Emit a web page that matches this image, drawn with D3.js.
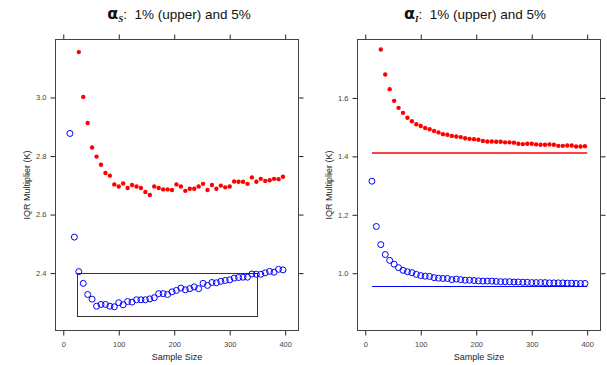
<!DOCTYPE html>
<html>
<head>
<meta charset="utf-8">
<script src="https://cdn.jsdelivr.net/npm/d3@7"></script>
<style>
  body { margin: 0; background: #fff; }
  svg { font-family: "Liberation Sans", Arial, sans-serif; }
</style>
</head>
<body>
<div id="chart"></div>
<script>
// sample sizes: 12, 20, ... 396 (blue series) ; red series starts at 28
const sizesAll = [12,20,28,36,44,52,60,68,76,84,92,100,108,116,124,132,140,148,156,164,172,180,188,196,204,212,220,228,236,244,252,260,268,276,284,292,300,308,316,324,332,340,348,356,364,372,380,388,396];
const sizesUpper = sizesAll.slice(2);

const sUpper = [3.155,3.002,2.913,2.829,2.798,2.770,2.742,2.733,2.703,2.696,2.706,2.691,2.701,2.696,2.691,2.677,2.667,2.696,2.691,2.686,2.686,2.684,2.703,2.696,2.681,2.688,2.688,2.696,2.705,2.684,2.701,2.688,2.699,2.693,2.696,2.713,2.712,2.712,2.705,2.727,2.712,2.722,2.715,2.717,2.722,2.721,2.729];
const sLower = [2.877,2.523,2.405,2.365,2.327,2.311,2.287,2.293,2.293,2.287,2.285,2.299,2.292,2.303,2.301,2.309,2.309,2.309,2.312,2.316,2.330,2.330,2.327,2.336,2.341,2.349,2.343,2.347,2.353,2.347,2.365,2.358,2.368,2.367,2.372,2.375,2.377,2.383,2.385,2.386,2.386,2.397,2.396,2.396,2.401,2.406,2.403,2.413,2.411];

const iUpper = [1.766,1.680,1.630,1.590,1.566,1.549,1.532,1.520,1.510,1.504,1.497,1.493,1.487,1.482,1.476,1.474,1.470,1.468,1.466,1.462,1.460,1.459,1.457,1.453,1.451,1.451,1.450,1.450,1.448,1.448,1.447,1.443,1.442,1.443,1.443,1.441,1.440,1.440,1.441,1.440,1.436,1.436,1.437,1.437,1.434,1.434,1.435];
const iLower = [1.315,1.160,1.098,1.064,1.044,1.031,1.019,1.010,1.005,1.002,0.996,0.992,0.990,0.989,0.985,0.983,0.982,0.982,0.978,0.980,0.978,0.976,0.976,0.975,0.974,0.973,0.973,0.973,0.972,0.971,0.971,0.971,0.970,0.970,0.969,0.969,0.968,0.968,0.968,0.968,0.967,0.967,0.967,0.967,0.966,0.966,0.965,0.965,0.965];

// reference levels in the alpha_I panel
const iRefUpper = 1.41, iRefLower = 0.955, iRefFrom = 12, iRefTo = 400;
// zoom box in the alpha_S panel
const sBox = { x0: 25, x1: 350, y0: 2.252, y1: 2.40 };

const xTicks = [0, 100, 200, 300, 400];
const sTicks = [2.4, 2.6, 2.8, 3.0];
const iTicks = [1.0, 1.2, 1.4, 1.6];

const W = 607, H = 365;
const svg = d3.select("#chart").append("svg").attr("width", W).attr("height", H);

function panel(opts) {
  const { left, right, top, bottom, yDomain, yTicks, upper, lower, sub, titleX } = opts;
  const x = d3.scaleLinear().domain([-14, 424]).range([left, right]);
  const y = d3.scaleLinear().domain(yDomain).range([bottom, top]);
  const g = svg.append("g");

  // axes: labelled bottom/left, bare ticks top/right
  const fmt = d3.format(".1f");
  g.append("g").attr("transform", `translate(0,${bottom})`)
    .call(d3.axisBottom(x).tickValues(xTicks).tickSize(5).tickPadding(6));
  g.append("g").attr("transform", `translate(0,${top})`)
    .call(d3.axisTop(x).tickValues(xTicks).tickSize(5).tickFormat(""));
  g.append("g").attr("transform", `translate(${left},0)`)
    .call(d3.axisLeft(y).tickValues(yTicks).tickSize(5).tickPadding(4).tickFormat(fmt));
  g.append("g").attr("transform", `translate(${right},0)`)
    .call(d3.axisRight(y).tickValues(yTicks).tickSize(5).tickFormat(""));
  g.selectAll(".domain").remove();
  g.selectAll(".tick line").attr("stroke", "#222");
  g.selectAll(".tick text").attr("font-size", 7.5).attr("fill", "#444")
    .attr("font-family", "Liberation Sans, Arial, sans-serif");

  g.append("rect").attr("x", left).attr("y", top)
    .attr("width", right - left).attr("height", bottom - top)
    .attr("fill", "none").attr("stroke", "#444").attr("stroke-width", 1);

  if (opts.box) {
    const b = opts.box;
    g.append("rect").attr("x", Math.round(x(b.x0)) + 0.5).attr("y", Math.round(y(b.y1)) + 0.5)
      .attr("width", Math.round(x(b.x1) - x(b.x0))).attr("height", Math.round(y(b.y0) - y(b.y1)))
      .attr("fill", "none").attr("stroke", "#333").attr("stroke-width", 1);
  }
  if (opts.refs) {
    const r = opts.refs;
    const yu = Math.round(y(r.upper)), yl = Math.round(y(r.lower)) + 0.5;
    g.append("line").attr("x1", x(r.from)).attr("x2", x(r.to))
      .attr("y1", yu).attr("y2", yu)
      .attr("stroke", "#ff0000").attr("stroke-width", 1.4);
    g.append("line").attr("x1", x(r.from)).attr("x2", x(r.to))
      .attr("y1", yl).attr("y2", yl)
      .attr("stroke", "#0000ff").attr("stroke-width", 1);
  }

  g.selectAll(".up").data(upper).enter().append("circle")
    .attr("cx", (d, i) => x(sizesUpper[i])).attr("cy", d => y(d))
    .attr("r", 2.2).attr("fill", "#ff0000");
  g.selectAll(".lo").data(lower).enter().append("circle")
    .attr("cx", (d, i) => x(sizesAll[i])).attr("cy", d => y(d))
    .attr("r", 3).attr("fill", "none").attr("stroke", "#0000ff").attr("stroke-width", 1);

  // labels
  g.append("text").attr("x", (left + right) / 2).attr("y", 360)
    .attr("text-anchor", "middle").attr("font-size", 9).attr("fill", "#222")
    .text("Sample Size");
  g.append("text")
    .attr("transform", `translate(${left - 26},${(top + bottom) / 2}) rotate(-90)`)
    .attr("text-anchor", "middle").attr("font-size", 9).attr("fill", "#222")
    .text("IQR Multiplier (K)");

  const t = g.append("text").attr("x", titleX).attr("y", 19)
    .attr("text-anchor", "middle").attr("font-size", 13.5).attr("fill", "#111");
  t.append("tspan").attr("font-weight", "bold").attr("font-size", 16)
    .attr("font-family", "DejaVu Sans, sans-serif").text("α");
  t.append("tspan").attr("font-weight", "bold").attr("font-style", "italic")
    .attr("font-size", 9).attr("dy", 3).attr("font-family", "Liberation Serif, serif").text(sub);
  t.append("tspan").attr("dy", -3).attr("xml:space", "preserve").text(":  1% (upper) and 5%");
}

panel({ left: 55.5, right: 298.5, top: 39.5, bottom: 330.5,
  yDomain: [2.204, 3.198], yTicks: sTicks, upper: sUpper, lower: sLower,
  sub: "S", titleX: 179, box: sBox });
panel({ left: 357.5, right: 600.5, top: 39.5, bottom: 330.5,
  yDomain: [0.804, 1.800], yTicks: iTicks, upper: iUpper, lower: iLower,
  sub: "I", titleX: 475,
  refs: { upper: iRefUpper, lower: iRefLower, from: iRefFrom, to: iRefTo } });
</script>
</body>
</html>
